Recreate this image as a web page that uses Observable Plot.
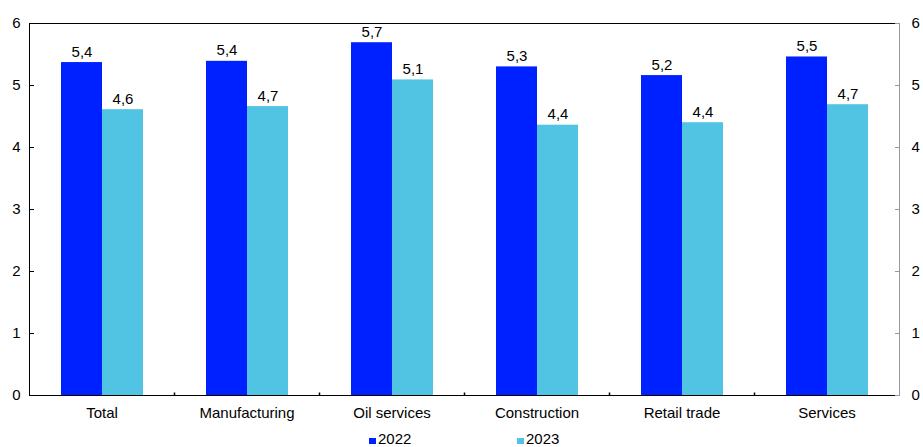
<!DOCTYPE html>
<html><head><meta charset="utf-8">
<script src="https://cdn.jsdelivr.net/npm/d3@7"></script>
<script src="https://cdn.jsdelivr.net/npm/@observablehq/plot@0.6"></script>
<style>
body{margin:0;background:#fff;font-family:"Liberation Sans",Arial,sans-serif;}
#legend{position:relative;height:22px;font-size:15px;line-height:15px;color:#000;}
#legend .item{position:absolute;top:6px;white-space:nowrap;}
#legend .sw{display:inline-block;width:7px;height:6px;margin-right:2px;vertical-align:baseline;}
</style></head><body>
<div id="chart"></div>
<div id="legend"></div>
<script>
const categories = ["Total", "Manufacturing", "Oil services", "Construction", "Retail trade", "Services"];
const years = ["2022", "2023"];
const values2022 = [5.37, 5.39, 5.69, 5.30, 5.16, 5.46];
const values2023 = [4.61, 4.66, 5.09, 4.36, 4.40, 4.69];
const yTicks = [0, 1, 2, 3, 4, 5, 6];
const colors = ["#0021ff", "#50c4e2"];

const data = categories.flatMap((c, i) => [
  {category: c, year: years[0], value: values2022[i]},
  {category: c, year: years[1], value: values2023[i]}
]);
const fmt = d => d3.format(".1f")(d).replace(".", ",");
const tickUp = {draw(ctx) { ctx.moveTo(0, 0); ctx.lineTo(0, -3); }};

const chart = Plot.plot({
  width: 923, height: 425,
  marginLeft: 28, marginRight: 23, marginTop: 23, marginBottom: 30,
  style: {fontFamily: "Liberation Sans, Arial, sans-serif", fontSize: "15px", color: "#000", background: "#fff"},
  fx: {domain: categories, paddingInner: 0, paddingOuter: 0, label: null},
  x: {domain: years, paddingInner: 0, paddingOuter: 0.744, axis: null},
  y: {domain: [0, 6], label: null},
  color: {domain: years, range: colors},
  marks: [
    Plot.barY(data, {fx: "category", x: "year", y: "value", fill: "year"}),
    Plot.text(data, {fx: "category", x: "year", y: "value", text: d => fmt(d.value), lineAnchor: "bottom", dy: -6, fill: "#000", fontSize: 15}),
    Plot.ruleY([0], {stroke: "#000"}),
    Plot.ruleY([6], {stroke: "#000"}),
    Plot.frame({anchor: "left", facetAnchor: "left", stroke: "#000"}),
    Plot.frame({anchor: "right", facetAnchor: "right", stroke: "#999"}),
    Plot.dot(categories.slice(1), {fx: d => d, frameAnchor: "bottom-left", symbol: tickUp, stroke: "#000", fill: "none"}),
    Plot.axisY(yTicks, {anchor: "left", tickSize: -5, tickPadding: 14, tickFormat: d => d, label: null, fontSize: 15, stroke: "#000"}),
    Plot.axisY(yTicks, {anchor: "right", tickSize: -5, tickPadding: 17, tickFormat: d => d, label: null, fontSize: 15, stroke: "#999", fill: "#000"}),
    Plot.axisFx({anchor: "bottom", tickSize: 0, tickPadding: 12, label: null, fontSize: 15})
  ]
});
document.getElementById("chart").appendChild(chart);

const legend = document.getElementById("legend");
const legendX = [369, 517];
years.forEach((y, i) => {
  const it = document.createElement("span");
  it.className = "item";
  it.style.left = legendX[i] + "px";
  it.innerHTML = `<span class="sw" style="background:${colors[i]}"></span>${y}`;
  legend.appendChild(it);
});
</script>
</body></html>
